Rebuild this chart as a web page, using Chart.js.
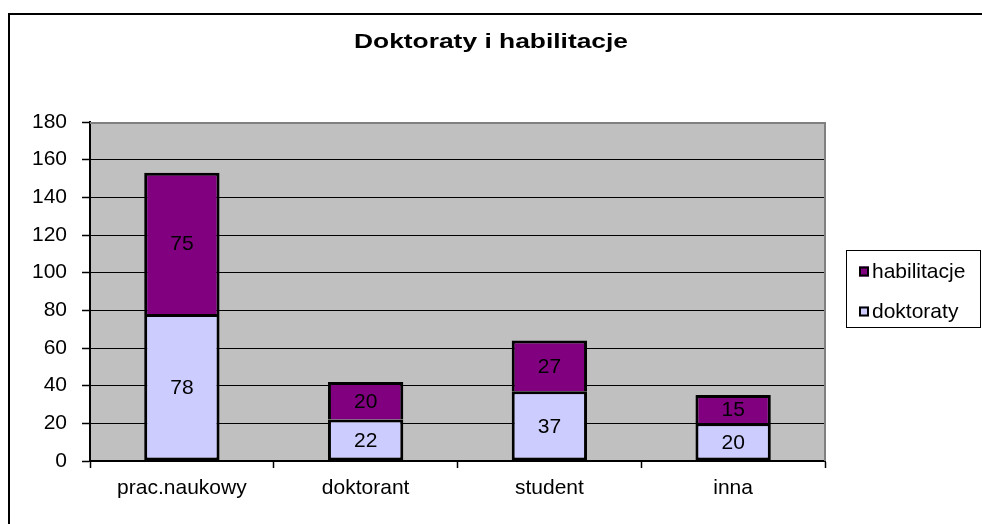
<!DOCTYPE html>
<html>
<head>
<meta charset="utf-8">
<script src="https://cdn.jsdelivr.net/npm/chart.js@4/dist/chart.umd.min.js"></script>
<style>
  html, body { margin: 0; padding: 0; background: #ffffff; }
  #wrap { width: 982px; height: 524px; position: relative; }
</style>
</head>
<body>
<div id="wrap"><canvas id="c" width="982" height="524"></canvas></div>
<script>
const categories = ['prac.naukowy', 'doktorant', 'student', 'inna'];
const doktoraty = [78, 22, 37, 20];
const habilitacje = [75, 20, 27, 15];
const yTicks = [0, 20, 40, 60, 80, 100, 120, 140, 160, 180];
const titleText = 'Doktoraty i habilitacje';

const FONT = "'Liberation Sans', Arial, sans-serif";

const decor = {
  id: 'decor',
  beforeDraw(chart) {
    const ctx = chart.ctx, a = chart.chartArea;
    ctx.save();
    ctx.fillStyle = '#ffffff';
    ctx.fillRect(0, 0, chart.width, chart.height);
    ctx.fillStyle = '#C0C0C0';
    ctx.fillRect(a.left, a.top, a.right - a.left, a.bottom - a.top);
    // outer frame
    ctx.strokeStyle = '#000';
    ctx.lineWidth = 2;
    ctx.strokeRect(9, 14, 2000, 2000);
    // title (slightly widened like the original rendering)
    ctx.font = 'bold 21px ' + FONT;
    ctx.fillStyle = '#000';
    ctx.textAlign = 'center';
    ctx.textBaseline = 'middle';
    const w = ctx.measureText(titleText).width;
    const sx = 274 / w;
    ctx.translate(491, 42);
    ctx.scale(sx, 1);
    ctx.fillText(titleText, 0, 0);
    ctx.restore();
  },
  beforeDatasetsDraw(chart) {
    const ctx = chart.ctx, a = chart.chartArea;
    ctx.save();
    ctx.strokeStyle = '#808080';
    ctx.lineWidth = 2;
    ctx.beginPath();
    ctx.moveTo(a.left, a.top + 1);
    ctx.lineTo(a.right + 1, a.top + 1);
    ctx.moveTo(a.right, a.top);
    ctx.lineTo(a.right, a.bottom);
    ctx.stroke();
    ctx.restore();
  },
  afterDatasetsDraw(chart) {
    const ctx = chart.ctx;
    ctx.save();
    ctx.font = '21px ' + FONT;
    ctx.fillStyle = '#000';
    ctx.textAlign = 'center';
    ctx.textBaseline = 'middle';
    chart.data.datasets.forEach((ds, i) => {
      const meta = chart.getDatasetMeta(i);
      meta.data.forEach((el, j) => {
        const p = el.getProps(['x', 'y', 'base'], true);
        ctx.fillText(String(ds.data[j]), p.x, (p.y + p.base) / 2 + 1);
      });
    });
    ctx.restore();
  },
  afterDraw(chart) {
    const ctx = chart.ctx;
    ctx.save();
    // legend box
    ctx.fillStyle = '#fff';
    ctx.fillRect(846, 250, 140, 78);
    ctx.strokeStyle = '#000';
    ctx.lineWidth = 1;
    ctx.strokeRect(846.5, 250.5, 134, 77);
    const items = chart.data.datasets.slice().reverse();
    ctx.font = '21px ' + FONT;
    ctx.textAlign = 'left';
    ctx.textBaseline = 'middle';
    items.forEach((ds, k) => {
      const cy = 271.5 + k * 40;
      ctx.fillStyle = ds.backgroundColor;
      ctx.fillRect(859, cy - 5, 10, 10);
      ctx.strokeStyle = '#000';
      ctx.lineWidth = 2;
      ctx.strokeRect(860, cy - 4, 8, 8);
      ctx.fillStyle = '#000';
      ctx.fillText(ds.label, 872, cy + 1);
    });
    ctx.restore();
  }
};

new Chart(document.getElementById('c'), {
  type: 'bar',
  data: {
    labels: categories,
    datasets: [
      {
        label: 'doktoraty',
        data: doktoraty,
        backgroundColor: '#CCCCFF',
        borderColor: '#000',
        borderWidth: 3,
        borderSkipped: false,
        barPercentage: 0.41,
        categoryPercentage: 1.0
      },
      {
        label: 'habilitacje',
        data: habilitacje,
        backgroundColor: '#800080',
        borderColor: '#000',
        borderWidth: 3,
        borderSkipped: 'start',
        barPercentage: 0.41,
        categoryPercentage: 1.0
      }
    ]
  },
  options: {
    responsive: false,
    animation: false,
    devicePixelRatio: 1,
    layout: { padding: { left: 0, right: 157, top: 122, bottom: 0 } },
    plugins: {
      legend: { display: false },
      tooltip: { enabled: false },
      title: { display: false }
    },
    scales: {
      x: {
        stacked: true,
        offset: true,
        afterFit(s) { s.height = 63; },
        grid: {
          offset: true,
          drawOnChartArea: false,
          drawTicks: true,
          tickLength: 7,
          tickColor: '#000',
          tickWidth: 1.5,
          color: '#000'
        },
        border: { display: true, color: '#000', width: 2 },
        ticks: {
          color: '#000',
          font: { family: FONT, size: 21 },
          padding: 8,
          maxRotation: 0
        }
      },
      y: {
        stacked: true,
        min: 0,
        max: 180,
        afterFit(s) { s.width = 90; },
        afterBuildTicks(s) { s.ticks = yTicks.map(v => ({ value: v })); },
        grid: {
          color: '#000',
          lineWidth: 1,
          tickLength: 8,
          tickColor: '#000',
          tickWidth: 1.5
        },
        border: { display: true, color: '#000', width: 2 },
        ticks: {
          color: '#000',
          font: { family: FONT, size: 21 },
          padding: 15
        }
      }
    }
  },
  plugins: [decor]
});
</script>
</body>
</html>
